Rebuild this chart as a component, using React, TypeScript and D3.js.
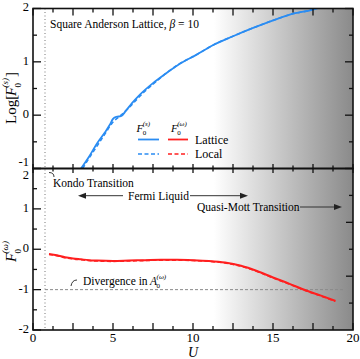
import React from "react";
import * as d3 from "d3";

// ---------- data ----------
const latticeTopU = [3.0, 3.5, 4.0, 4.5, 4.8, 5.0, 5.2, 5.5, 5.8, 6.2, 6.7, 7.5, 8.3, 9.2, 10.2, 11.3, 12.5, 13.8, 15.4, 16.1, 17.5, 18.2];
const latticeTopV = [-1.0, -0.78, -0.53, -0.32, -0.18, -0.07, -0.03, -0.02, 0.08, 0.23, 0.39, 0.6, 0.78, 0.97, 1.13, 1.32, 1.48, 1.64, 1.82, 1.89, 1.98, 2.05];
const localTopU = [3.1, 3.6, 4.0, 4.5, 5.0, 5.5, 6.0, 6.5, 7.0, 7.5, 8.3, 9.2, 10.2, 11.3, 12.5, 13.8, 15.4, 16.1, 17.5, 18.2];
const localTopV = [-1.0, -0.76, -0.58, -0.35, -0.13, 0.0, 0.14, 0.3, 0.45, 0.58, 0.78, 0.97, 1.13, 1.32, 1.48, 1.64, 1.82, 1.89, 1.98, 2.05];

const latticeBotU = [1.0, 1.5, 2.0, 2.5, 3.0, 3.5, 4.0, 5.0, 6.0, 7.0, 8.0, 9.0, 10.0, 11.0, 12.0, 13.0, 14.0, 15.0, 16.0, 17.0, 18.0, 18.9];
const latticeBotV = [-0.12, -0.15, -0.2, -0.23, -0.25, -0.27, -0.28, -0.29, -0.28, -0.27, -0.26, -0.26, -0.27, -0.29, -0.33, -0.41, -0.54, -0.7, -0.85, -1.01, -1.15, -1.28];
const localBotU = [1.0, 1.5, 2.0, 2.5, 3.0, 3.5, 4.0, 5.0, 6.0, 7.0, 8.0, 9.0, 10.0, 11.0, 12.0, 13.0, 14.0, 15.0, 16.0, 17.0, 18.0, 18.9];
const localBotV = [-0.13, -0.16, -0.21, -0.24, -0.26, -0.28, -0.29, -0.3, -0.29, -0.28, -0.27, -0.27, -0.28, -0.3, -0.34, -0.42, -0.55, -0.71, -0.86, -1.02, -1.16, -1.29];

const xTickLabels = [0, 5, 10, 15, 20];
const topYTickLabels = [2, 1, 0, -1];
const botYTickLabels = [2, 1, 0, -1, -2];
const kondoU = 0.75;
const divergenceLevel = -1;

const FONT = "Liberation Serif, Times New Roman, Times, serif";
const BLUE = "#2a8cf2";
const RED = "#ff1f1f";

function StackedF({ x, y, base, sub, sup, size, small }) {
  const fw = size * 0.62;
  return (
    <g fontFamily={FONT}>
      <text x={x} y={y} fontSize={size} fontStyle="italic">{base}</text>
      <text x={x + fw - size * 0.05} y={y + size * 0.3} fontSize={small}>{sub}</text>
      <text x={x + fw - size * 0.05} y={y - size * 0.55} fontSize={small} fontStyle="italic">{sup}</text>
    </g>
  );
}

export default function App() {
  const W = 360, H = 359;
  const left = 33, right = 353;
  const topY0 = 8.5, topY1 = 168.5, botY1 = 330;
  const x = d3.scaleLinear().domain([0, 20]).range([left, right]);
  const yT = d3.scaleLinear().domain([-1, 2]).range([topY1, topY0]);
  const yB = d3.scaleLinear().domain([-2, 2]).range([botY1, topY1]);

  const mk = (us: number[], vs: number[], ys: any) =>
    d3.line<number>().x((d) => x(d)).y((d, i) => ys(vs[i])).curve(d3.curveMonotoneX)(us) || "";

  const xMajor = d3.range(0, 20.01, 2.5);
  const xMinor = d3.range(1.25, 20, 2.5);
  const yTopMajor = d3.range(-1, 2.01, 1);
  const yTopMinor = d3.range(-0.5, 2, 1);
  const yBotMajor = d3.range(-2, 2.01, 1);
  const yBotMinor = d3.range(-1.5, 2, 1);
  const yBotRight = [4 / 3, 2 / 3, 0, -2 / 3, -4 / 3];

  const ax = { stroke: "#111", strokeWidth: 1.3 };
  const arrowHead = (xTip: number, yy: number, dir: number) =>
    `M${xTip},${yy} L${xTip - dir * 8},${yy - 3} L${xTip - dir * 8},${yy + 3} Z`;

  return (
    <svg width={W} height={H} style={{ position: "absolute", left: 0, top: 0, background: "#fff", fontFamily: FONT }} fontFamily={FONT}>
      <defs>
        <linearGradient id="bg" gradientUnits="userSpaceOnUse" x1={x(11.3)} x2={x(20)} y1={0} y2={0}>
          <stop offset="0" stopColor="#ffffff" />
          <stop offset="1" stopColor="#8a8a8a" />
        </linearGradient>
        <clipPath id="clipTop"><rect x={left} y={topY0} width={right - left} height={topY1 - topY0} /></clipPath>
        <clipPath id="clipBot"><rect x={left} y={topY1} width={right - left} height={botY1 - topY1} /></clipPath>
      </defs>
      <rect x={left} y={topY0} width={right - left} height={botY1 - topY0} fill="url(#bg)" />

      {/* Kondo dotted line */}
      <line x1={x(kondoU)} x2={x(kondoU)} y1={topY0} y2={botY1} stroke="#777" strokeWidth={1} strokeDasharray="1,2.5" />
      {/* divergence dashed */}
      <line x1={x(kondoU)} x2={x(19.4)} y1={yB(divergenceLevel)} y2={yB(divergenceLevel)} stroke="#8a8a8a" strokeWidth={1} strokeDasharray="3,2" />

      {/* top curves */}
      <g clipPath="url(#clipTop)" fill="none">
        <path d={mk(localTopU, localTopV, yT)} stroke={BLUE} strokeWidth={1.6} strokeDasharray="4,2.5" />
        <path d={mk(latticeTopU, latticeTopV, yT)} stroke={BLUE} strokeWidth={1.8} />
      </g>
      {/* bottom curves */}
      <g clipPath="url(#clipBot)" fill="none">
        <path d={mk(latticeBotU, latticeBotV, yB)} stroke={RED} strokeWidth={2} />
        <path d={mk(localBotU, localBotV, yB)} stroke={RED} strokeWidth={1.6} strokeDasharray="4,2.5" />
      </g>

      {/* frames */}
      <rect x={left} y={topY0} width={right - left} height={topY1 - topY0} fill="none" {...ax} strokeWidth={1.6} />
      <rect x={left} y={topY1} width={right - left} height={botY1 - topY1} fill="none" {...ax} strokeWidth={1.6} />

      {/* x ticks */}
      {xMajor.map((u) => (
        <g key={"xM" + u}>
          <line x1={x(u)} x2={x(u)} y1={topY0} y2={topY0 + 7} {...ax} />
          <line x1={x(u)} x2={x(u)} y1={topY1 - 4.5} y2={topY1 + 4.5} {...ax} />
          <line x1={x(u)} x2={x(u)} y1={botY1} y2={botY1 - 7} {...ax} />
        </g>
      ))}
      {xMinor.map((u) => (
        <g key={"xm" + u}>
          <line x1={x(u)} x2={x(u)} y1={topY0} y2={topY0 + 4} {...ax} />
          <line x1={x(u)} x2={x(u)} y1={topY1 - 3} y2={topY1 + 3} {...ax} />
          <line x1={x(u)} x2={x(u)} y1={botY1} y2={botY1 - 4} {...ax} />
        </g>
      ))}
      {/* y ticks */}
      {yTopMajor.map((v) => (
        <g key={"yTM" + v}>
          <line x1={left} x2={left + 8} y1={yT(v)} y2={yT(v)} {...ax} />
          <line x1={right} x2={right - 8} y1={yT(v)} y2={yT(v)} {...ax} />
        </g>
      ))}
      {yTopMinor.map((v) => (
        <g key={"yTm" + v}>
          <line x1={left} x2={left + 4} y1={yT(v)} y2={yT(v)} {...ax} />
          <line x1={right} x2={right - 4} y1={yT(v)} y2={yT(v)} {...ax} />
        </g>
      ))}
      {yBotMajor.map((v) => (
        <line key={"yBM" + v} x1={left} x2={left + 8} y1={yB(v)} y2={yB(v)} {...ax} />
      ))}
      {yBotMinor.map((v) => (
        <line key={"yBm" + v} x1={left} x2={left + 4} y1={yB(v)} y2={yB(v)} {...ax} />
      ))}
      {yBotRight.map((v, i) => (
        <line key={"yBR" + i} x1={right} x2={right - (i % 2 === 1 ? 7 : 4)} y1={yB(v)} y2={yB(v)} {...ax} />
      ))}

      {/* tick labels */}
      {xTickLabels.map((u) => (
        <text key={"xl" + u} x={x(u)} y={342} fontSize={13} textAnchor="middle">{u}</text>
      ))}
      {topYTickLabels.map((v) => (
        <text key={"ytl" + v} x={29} y={yT(v) + (v === -1 ? -5.5 : 0)} fontSize={12.5} textAnchor="end" dominantBaseline="middle">{v}</text>
      ))}
      {botYTickLabels.map((v) => (
        <text key={"ybl" + v} x={29} y={yB(v) + (v === 2 ? 7.5 : 0)} fontSize={12.5} textAnchor="end" dominantBaseline="middle">{v}</text>
      ))}
      <text x={x(10)} y={357} fontSize={14} fontStyle="italic" textAnchor="middle">U</text>

      {/* axis titles */}
      <g transform="translate(16,124) rotate(-90)">
        <text x={0} y={0} fontSize={15}>Log[</text>
        <StackedF x={28} y={0} base="F" sub="0" sup="(s)" size={15} small={9} />
        <text x={47} y={0} fontSize={15}>]</text>
      </g>
      <g transform="translate(16,262) rotate(-90)">
        <StackedF x={0} y={0} base="F" sub="0" sup="(ω)" size={15} small={9} />
      </g>

      {/* title */}
      <text x={50} y={28} fontSize={11.5}>Square Anderson Lattice, <tspan fontStyle="italic">β</tspan> = 10</text>

      {/* legend */}
      <StackedF x={136.5} y={132} base="F" sub="0" sup="(s)" size={11} small={7} />
      <StackedF x={171} y={132} base="F" sub="0" sup="(ω)" size={11} small={7} />
      <line x1={138} x2={159} y1={139.5} y2={139.5} stroke={BLUE} strokeWidth={1.8} />
      <line x1={168} x2={188} y1={139.5} y2={139.5} stroke={RED} strokeWidth={1.8} />
      <line x1={138} x2={159} y1={154} y2={154} stroke={BLUE} strokeWidth={1.6} strokeDasharray="4,2.5" />
      <line x1={168} x2={188} y1={154} y2={154} stroke={RED} strokeWidth={1.6} strokeDasharray="4,2.5" />
      <text x={195} y={143.5} fontSize={12}>Lattice</text>
      <text x={195} y={157.5} fontSize={12}>Local</text>

      {/* annotations */}
      <path d="M49,172.5 Q54,172.5 54,177" fill="none" stroke="#222" strokeWidth={0.9} />
      <text x={53} y={187} fontSize={11.5}>Kondo Transition</text>

      <line x1={84} x2={123} y1={195.7} y2={195.7} stroke="#333" strokeWidth={1} />
      <path d={arrowHead(78, 195.7, -1)} fill="#222" />
      <text x={128} y={199.5} fontSize={11.5}>Fermi Liquid</text>
      <line x1={190} x2={242} y1={195.7} y2={195.7} stroke="#333" strokeWidth={1} />
      <path d={arrowHead(248, 195.7, 1)} fill="#222" />

      <text x={197} y={211} fontSize={11.5}>Quasi-Mott Transition</text>
      <line x1={300} x2={336} y1={207} y2={207} stroke="#333" strokeWidth={1} />
      <path d={arrowHead(342, 207, 1)} fill="#222" />

      <path d="M71,286 Q72,280 77,280" fill="none" stroke="#222" strokeWidth={0.9} />
      <text x={83} y={285} fontSize={11.5}>Divergence in</text>
      <StackedF x={150} y={285} base="A" sub="0" sup="(ω)" size={11.5} small={7} />
    </svg>
  );
}
